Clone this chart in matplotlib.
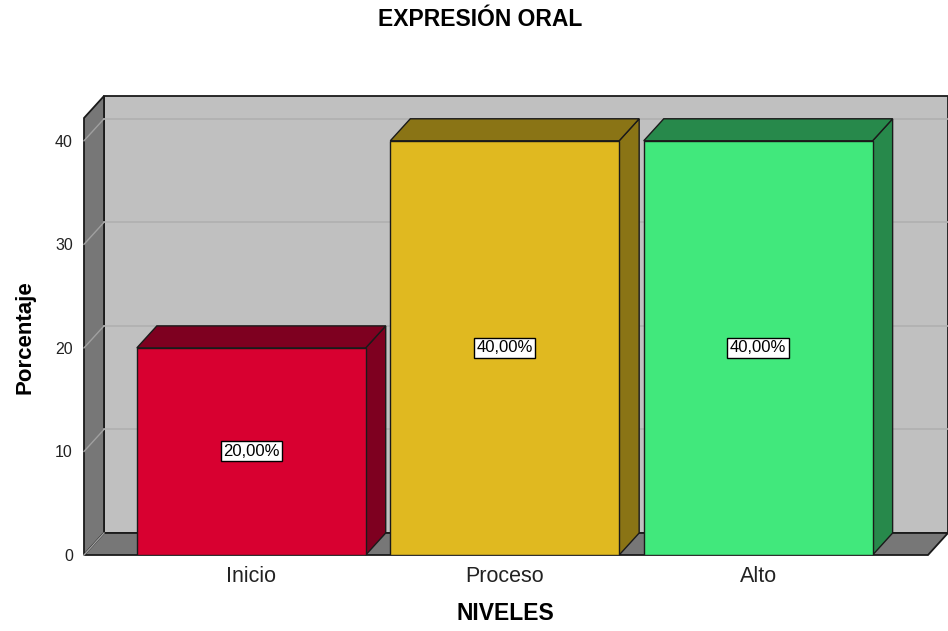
import matplotlib
matplotlib.use("Agg")
import matplotlib.pyplot as plt
from matplotlib.patches import Polygon, Rectangle

plt.rcParams['font.family'] = ['Liberation Sans', 'DejaVu Sans']

categories = ["Inicio", "Proceso", "Alto"]
values = [20.0, 40.0, 40.0]
front_colors = ["#D80030", "#E0B920", "#41E87C"]
dark_colors = ["#7E0020", "#8A7415", "#27894B"]
yticks = [0, 10, 20, 30, 40]

W, H = 948, 631
fig = plt.figure(figsize=(W / 100, H / 100), dpi=100)
left_px, right_px, bot_px, top_px = 84, 928, 555, 118
ax = fig.add_axes([left_px / W, 1 - bot_px / H, (right_px - left_px) / W, (bot_px - top_px) / H])
x_lo, x_hi = -0.66, 2.67
y_lo, y_hi = 0, 42.2
ax.set_xlim(x_lo, x_hi)
ax.set_ylim(y_lo, y_hi)
ax.patch.set_visible(False)
for s in ax.spines.values():
    s.set_visible(False)

# depth offset in data units (20 px right, 22 px up)
px_x = (x_hi - x_lo) / (right_px - left_px)
px_y = (y_hi - y_lo) / (bot_px - top_px)
dx = 20 * px_x
dy = 22 * px_y

edge = "#1a1a1a"
wall_gray = "#C0C0C0"
side_gray = "#777777"
grid_col = "#B0B0B0"

# back wall
ax.add_patch(Rectangle((x_lo + dx, y_lo + dy), x_hi - x_lo, y_hi - y_lo, facecolor=wall_gray,
                       edgecolor=edge, lw=1.3, clip_on=False, zorder=1))
# left wall
ax.add_patch(Polygon([(x_lo, y_lo), (x_lo, y_hi), (x_lo + dx, y_hi + dy), (x_lo + dx, y_lo + dy)],
                     closed=True, facecolor=side_gray, edgecolor=edge, lw=1.3, clip_on=False, zorder=1.5))
# floor
ax.add_patch(Polygon([(x_lo, y_lo), (x_hi, y_lo), (x_hi + dx, y_lo + dy), (x_lo + dx, y_lo + dy)],
                     closed=True, facecolor=side_gray, edgecolor=edge, lw=1.3, clip_on=False, zorder=1.5))
# gridlines
for v in yticks:
    ax.plot([x_lo, x_lo + dx], [v, v + dy], color="#A0A0A0", lw=1.0, clip_on=False, zorder=2)
    if v == 0:
        continue
    ax.plot([x_lo + dx, x_hi + dx], [v + dy, v + dy], color=grid_col, lw=1.2, clip_on=False, zorder=2)

# bars
bw = 0.903
xs = list(range(len(categories)))
ax.bar(xs, values, width=bw, color=front_colors, edgecolor=edge, linewidth=1.0, zorder=5)
for x, v, dc in zip(xs, values, dark_colors):
    xl, xr = x - bw / 2, x + bw / 2
    ax.add_patch(Polygon([(xr, 0), (xr, v), (xr + dx, v + dy), (xr + dx, dy)], closed=True,
                         facecolor=dc, edgecolor=edge, lw=1.0, zorder=4, clip_on=False))
    ax.add_patch(Polygon([(xl, v), (xr, v), (xr + dx, v + dy), (xl + dx, v + dy)], closed=True,
                         facecolor=dc, edgecolor=edge, lw=1.0, zorder=4, clip_on=False))
    ax.text(x, v / 2, f"{v:.2f}".replace(".", ",") + "%", ha="center", va="center", fontsize=12,
            zorder=6, bbox=dict(boxstyle="square,pad=0.15", facecolor="white", edgecolor="black", lw=1.0))

ax.set_xticks(xs)
ax.set_xticklabels(categories, fontsize=15.5, color="#222222")
ax.set_yticks(yticks)
ax.set_yticklabels([str(t) for t in yticks], fontsize=11.5, color="#222222")
ax.tick_params(axis="both", length=0)
ax.tick_params(axis="x", pad=8)
ax.tick_params(axis="y", pad=8)

fig.text(480 / W, 1 - 20 / H, "EXPRESIÓN ORAL", ha="center", va="center", fontsize=16.5, fontweight="bold")
fig.text(505 / W, 1 - 614 / H, "NIVELES", ha="center", va="center", fontsize=16.5, fontweight="bold")
fig.text(25 / W, 1 - 337 / H, "Porcentaje", ha="center", va="center", rotation=90, fontsize=16,
         fontweight="bold")

fig.savefig("out.png", dpi=100)
